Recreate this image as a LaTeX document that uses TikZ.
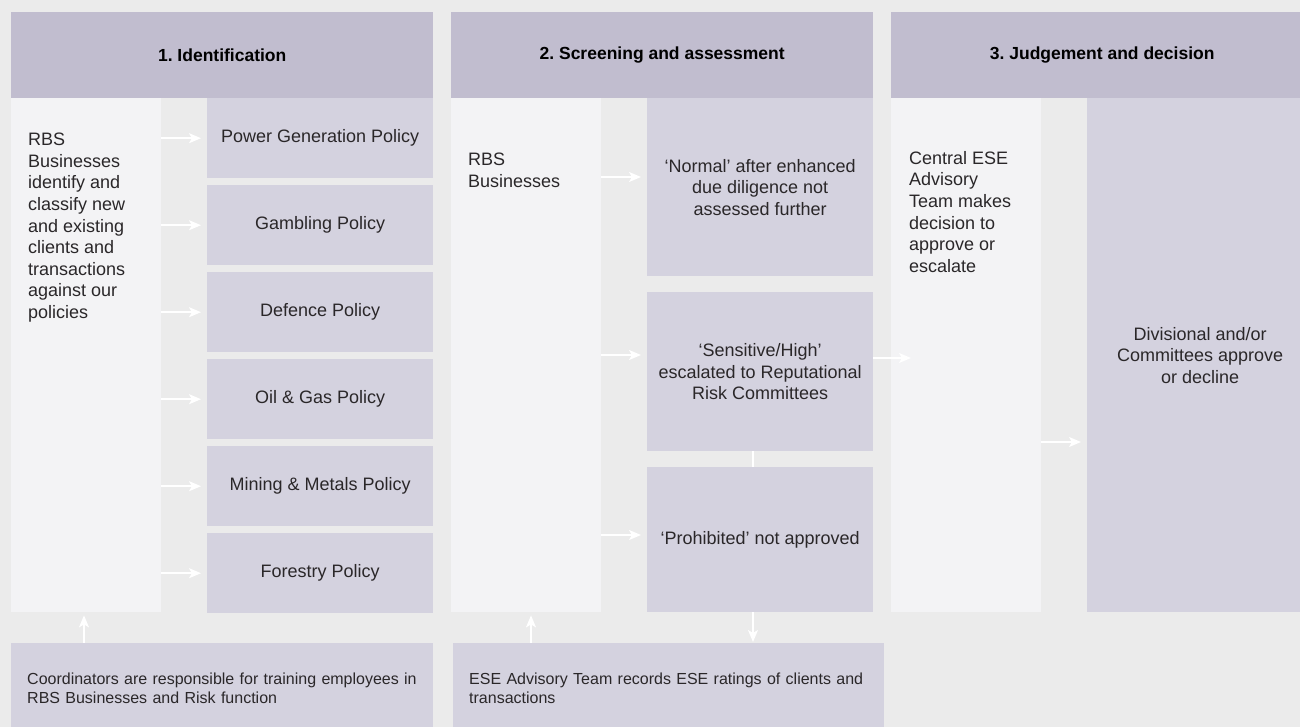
\documentclass[tikz,border=0pt]{standalone}
\usepackage{fontspec}
\setmainfont{Liberation Sans}
\usepackage{tikz}
\usetikzlibrary{calc,arrows.meta}
\frenchspacing
\definecolor{pagegrey}{HTML}{EBEBEB}
\definecolor{headgrey}{HTML}{C1BDCF}
\definecolor{palebox}{HTML}{F3F3F5}
\definecolor{lilacbox}{HTML}{D4D2DF}
\definecolor{inkgrey}{HTML}{2A2729}
\tikzset{
  head/.style={fill=headgrey,anchor=north west,inner sep=0pt,minimum width=422pt,minimum height=86pt,
    text=black,font=\bfseries\fontsize{17.5}{21}\selectfont},
  pale/.style={fill=palebox,anchor=north west,inner sep=0pt,minimum width=150pt,minimum height=514pt},
  paletext/.style={anchor=north west,inner sep=0pt,align=left,text=inkgrey,font=\fontsize{18}{21.6}\selectfont},
  lilac/.style={fill=lilacbox,anchor=north west,inner sep=0pt,minimum width=226pt,align=center,
    text=inkgrey,font=\fontsize{18}{21.6}\selectfont},
  foot/.style={fill=lilacbox,anchor=north west,inner xsep=16pt,inner ysep=0pt,minimum height=90pt,align=left,
    text=inkgrey,font=\fontsize{16}{19}\selectfont},
  flow/.style={draw=white,line width=1.5pt,-{Stealth[length=12pt,width=10pt,inset=3pt]}},
}
\def\polnode{\node[lilac,minimum height=80pt]}
\def\flowarrow{\draw[flow]}

\begin{document}
\begin{tikzpicture}[x=1pt,y=-1pt]
\useasboundingbox (0,0) rectangle (1300,727);
\clip (0,0) rectangle (1300,727);
\fill[pagegrey] (0,0) rectangle (1300,727);

% 1. Identification
\node[head] (h1) at (11,12) {1. Identification};
\node[pale] (p1) at (11,98) {};
\node[paletext] (t1) at ($ (p1.north west) + (17,35) $) {RBS\\Businesses\\identify and\\classify new\\and existing\\clients and\\transactions\\against our\\policies};
\polnode (pow) at (207,98) {Power Generation Policy};
\polnode (gam) at (207,185) {Gambling Policy};
\polnode (def) at (207,272) {Defence Policy};
\polnode (oil) at (207,359) {Oil \& Gas Policy};
\polnode (min) at (207,446) {Mining \& Metals Policy};
\polnode (for) at (207,533) {Forestry Policy};

% 2. Screening and assessment
\node[head] (h2) at (451,12) {2. Screening and assessment};
\node[pale] (p2) at (451,98) {};
\node[paletext] (t2) at ($ (p2.north west) + (17,55) $) {RBS\\Businesses};
\node[lilac,minimum height=178pt] (nrm) at (647,98) {‘Normal’ after enhanced\\due diligence not\\assessed further};
\node[lilac,minimum height=159pt] (sen) at (647,292) {‘Sensitive/High’\\escalated to Reputational\\Risk Committees};
\node[lilac,minimum height=145pt] (pro) at (647,467) {‘Prohibited’ not approved};

% 3. Judgement and decision
\node[head] (h3) at (891,12) {3. Judgement and decision};
\node[pale] (p3) at (891,98) {};
\node[paletext] (t3) at ($ (p3.north west) + (18,53) $) {Central ESE\\Advisory\\Team makes\\decision to\\approve or\\escalate};
\node[lilac,minimum height=514pt] (div) at (1087,98) {Divisional and/or\\Committees approve\\or decline};

% record keeping along the bottom
\node[foot,minimum width=422pt,text width=390pt] (coo) at (11,643) {Coordinators are responsible for training employees in\\RBS Businesses and Risk function};
\node[foot,minimum width=431pt,text width=399pt] (rec) at (453,643) {ESE Advisory Team records ESE ratings of clients and\\transactions};

% arrows of column 1
\flowarrow[shorten >=6pt] (p1.east |- pow.west) to (pow.west);
\flowarrow[shorten >=6pt] (p1.east |- gam.west) to (gam.west);
\flowarrow[shorten >=6pt] (p1.east |- def.west) to (def.west);
\flowarrow[shorten >=6pt] (p1.east |- oil.west) to (oil.west);
\flowarrow[shorten >=6pt] (p1.east |- min.west) to (min.west);
\flowarrow[shorten >=6pt] (p1.east |- for.west) to (for.west);

% arrows of column 2, a little above the box centres
\coordinate (to_nrm) at (601,177);
\coordinate (to_sen) at (601,355);
\coordinate (to_pro) at (601,535);
\flowarrow[shorten >=6pt] (to_nrm) to (to_nrm -| nrm.west);
\flowarrow[shorten >=6pt] (to_sen) to (to_sen -| sen.west);
\flowarrow[shorten >=6pt] (to_pro) to (to_pro -| pro.west);

% escalation into column 3
\coordinate (esc_out) at (873,358);
\coordinate (esc_in) at (911,358);
\flowarrow (esc_out) to (esc_in);
\coordinate (to_div) at (1041,442);
\flowarrow[shorten >=6pt] (to_div) to (to_div -| div.west);

% links with the bottom boxes
\coordinate (up_a) at (84,643);
\coordinate (up_b) at (531,643);
\coordinate (down_b) at (753,0);
\flowarrow[shorten >=3pt] (up_a) to (up_a |- p1.south);
\flowarrow[shorten >=3pt] (up_b) to (up_b |- p2.south);
\draw[white,line width=2pt] (sen.south -| down_b) to (pro.north -| down_b);
\flowarrow[shorten >=1pt] (pro.south -| down_b) to (rec.north -| down_b);
\end{tikzpicture}
\end{document}
